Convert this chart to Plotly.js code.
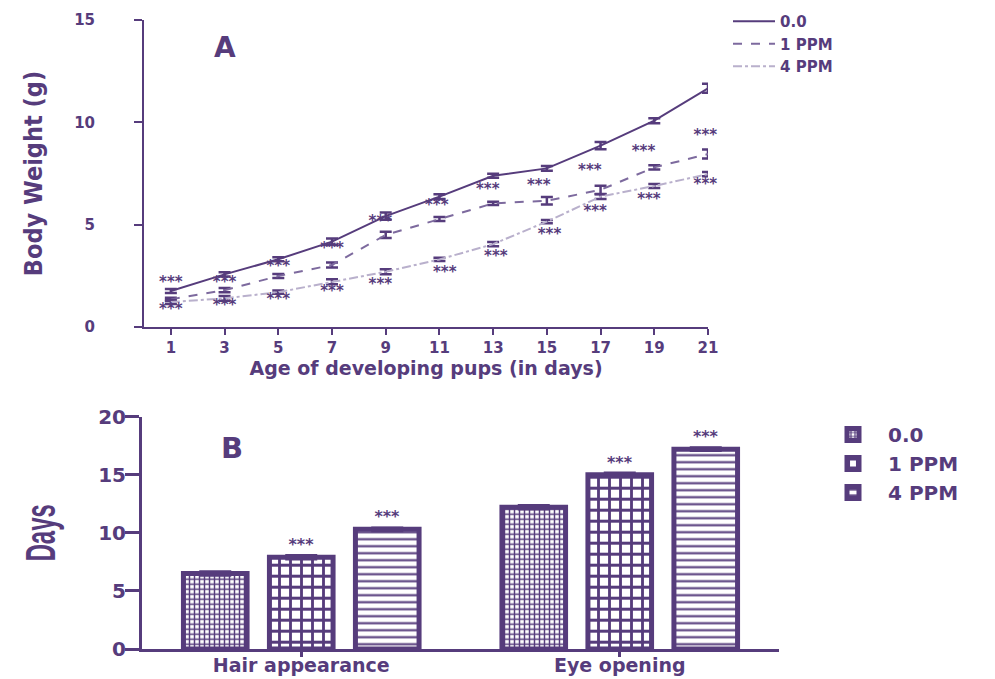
<!DOCTYPE html>
<html>
<head>
<meta charset="utf-8">
<script src="https://cdn.plot.ly/plotly-3.0.1.min.js"></script>
<style>html,body{margin:0;padding:0;background:#fff;}#chart{width:995px;height:679px;}</style>
</head>
<body>
<div id="chart"></div>
<script>
// ---- Panel A data: body weight (g) by age (days) ----
const days = [1, 3, 5, 7, 9, 11, 13, 15, 17, 19, 21];
const control = [1.76, 2.57, 3.31, 4.17, 5.42, 6.37, 7.39, 7.75, 8.86, 10.08, 11.66];
const controlErr = [0.1, 0.1, 0.1, 0.15, 0.18, 0.12, 0.1, 0.12, 0.18, 0.12, 0.22];
const ppm1 = [1.35, 1.80, 2.49, 3.03, 4.50, 5.28, 6.04, 6.17, 6.70, 7.80, 8.45];
const ppm1Err = [0.08, 0.1, 0.1, 0.12, 0.15, 0.1, 0.08, 0.18, 0.2, 0.1, 0.22];
const ppm4 = [1.22, 1.40, 1.70, 2.21, 2.70, 3.30, 4.05, 5.15, 6.37, 6.89, 7.47];
const ppm4Err = [0.1, 0.12, 0.08, 0.12, 0.12, 0.08, 0.1, 0.08, 0.12, 0.1, 0.1];
const seriesNames = ["0.0", "1 PPM", "4 PPM"];
// significance marks in panel A
const starX = [1, 1, 3, 3, 5, 5, 7, 7, 8.8, 8.8, 10.9, 11.2, 12.8, 13.1, 14.7, 15.1, 16.6, 16.8, 18.6, 18.8, 20.9, 20.9];
const starY = [2.16, 0.83, 2.15, 0.99, 2.9, 1.32, 3.8, 1.70, 5.14, 2.05, 5.91, 2.65, 6.69, 3.43, 6.90, 4.49, 7.59, 5.63, 8.56, 6.17, 9.33, 6.94];
const starLabel = "***";

// ---- Panel B data: days to developmental milestone ----
const milestones = ["Hair appearance", "Eye opening"];
const bar0 = [6.5, 12.2];
const bar0Err = [0.15, 0.15];
const bar1 = [7.9, 15.0];
const bar1Err = [0.15, 0.15];
const bar4 = [10.3, 17.2];
const bar4Err = [0.12, 0.12];
const bar0Stars = ["", ""];
const bar1Stars = ["***", "***"];
const bar4Stars = ["***", "***"];

const dark = "#563c7c";
const mid = "#7d6a9e";
const light = "#b9b0cc";
const FONT = "DejaVu Sans, Liberation Sans, sans-serif";
const NARROW = "DejaVu Sans Condensed, Liberation Sans, sans-serif";

function errA(arr) {
  return {type: "data", array: arr, visible: true, color: dark, thickness: 2.5, width: 6};
}

const traces = [
  {x: days, y: control, name: seriesNames[0], type: "scatter", mode: "lines",
   line: {color: dark, width: 2, dash: "solid"}, error_y: errA(controlErr), xaxis: "x", yaxis: "y", legend: "legend"},
  {x: days, y: ppm1, name: seriesNames[1], type: "scatter", mode: "lines",
   line: {color: mid, width: 2, dash: "dash"}, error_y: errA(ppm1Err), xaxis: "x", yaxis: "y", legend: "legend"},
  {x: days, y: ppm4, name: seriesNames[2], type: "scatter", mode: "lines",
   line: {color: light, width: 2, dash: "dashdot"}, error_y: errA(ppm4Err), xaxis: "x", yaxis: "y", legend: "legend"},
  {x: starX, y: starY, text: starX.map(() => starLabel), type: "scatter", mode: "text",
   textposition: "middle center", cliponaxis: false,
   textfont: {family: FONT, size: 15, color: dark, weight: "bold"},
   showlegend: false, hoverinfo: "skip", xaxis: "x", yaxis: "y"},
];

function barTrace(vals, errs, stars, name, pattern) {
  return {
    x: milestones, y: vals, name: name, type: "bar", xaxis: "x2", yaxis: "y2", legend: "legend2",
    text: stars, textposition: "outside", cliponaxis: false,
    textfont: {family: FONT, size: 16, color: dark, weight: "bold"},
    marker: {color: "#ffffff", line: {color: dark, width: 5},
             pattern: Object.assign({fgcolor: dark, bgcolor: "#ffffff", fillmode: "replace"}, pattern)},
    error_y: {type: "data", array: errs, visible: true, color: dark, thickness: 3, width: 16}
  };
}
traces.push(barTrace(bar0, bar0Err, bar0Stars, seriesNames[0], {shape: "+", size: 5, solidity: 0.5}));
traces.push(barTrace(bar1, bar1Err, bar1Stars, seriesNames[1], {shape: "+", size: 11, solidity: 0.45}));
traces.push(barTrace(bar4, bar4Err, bar4Stars, seriesNames[2], {shape: "-", size: 7, solidity: 0.3}));

const W = 995, H = 679;
const axTickFont = {family: FONT, size: 15, color: dark, weight: "bold"};

const layout = {
  width: W, height: H,
  margin: {l: 0, r: 0, t: 0, b: 0},
  paper_bgcolor: "#ffffff", plot_bgcolor: "#ffffff",
  font: {family: FONT, color: dark},
  barmode: "group", bargap: 0.19, bargroupgap: 0.26,
  xaxis: {
    domain: [144 / W, 708 / W], range: [0, 21], anchor: "y",
    tickmode: "array", tickvals: days, ticks: "outside", ticklen: 6, tickwidth: 2, tickcolor: dark,
    showline: true, linecolor: dark, linewidth: 2, showgrid: false, zeroline: false,
    tickfont: axTickFont,
    title: {text: "Age of developing pups (in days)", font: {family: FONT, size: 19, color: dark, weight: "bold"}, standoff: 4}
  },
  yaxis: {
    domain: [1 - 327 / H, 1 - 20 / H], range: [0, 15], anchor: "x",
    tickmode: "array", tickvals: [0, 5, 10, 15], ticks: "outside", ticklen: 8, tickwidth: 2, tickcolor: dark,
    ticklabelstandoff: 36,
    showline: true, linecolor: dark, linewidth: 2, showgrid: false, zeroline: false,
    tickfont: axTickFont,
    title: {text: "Body Weight (g)", font: {family: NARROW, size: 25, color: dark, weight: "bold"}, standoff: 24}
  },
  xaxis2: {
    domain: [142 / W, 779 / W], anchor: "y2", type: "category",
    ticks: "outside", ticklen: 5, tickwidth: 3, tickcolor: dark, ticklabelstandoff: -8,
    showline: true, linecolor: dark, linewidth: 3, showgrid: false, zeroline: false,
    tickfont: {family: FONT, size: 19, color: dark, weight: "bold"}
  },
  yaxis2: {
    domain: [1 - 649 / H, 1 - 416.7 / H], range: [0, 20], anchor: "x2",
    tickmode: "array", tickvals: [0, 5, 10, 15, 20], ticks: "outside", ticklen: 14, tickwidth: 3, tickcolor: dark,
    ticklabelstandoff: -5,
    showline: true, linecolor: dark, linewidth: 3, showgrid: false, zeroline: false,
    tickfont: {family: FONT, size: 20, color: dark, weight: "bold"},
    title: {text: "Days", font: {family: "Liberation Sans, sans-serif", size: 42, color: dark, weight: "bold"}, standoff: 30}
  },
  legend: {
    x: 728 / W, y: 1 - 5 / H, xanchor: "left", yanchor: "top",
    font: {family: FONT, size: 15, color: dark, weight: "bold"},
    tracegroupgap: 0, itemwidth: 42, bgcolor: "rgba(0,0,0,0)"
  },
  legend2: {
    x: 818 / W, y: 1 - 415 / H, xanchor: "left", yanchor: "top",
    font: {family: FONT, size: 20, color: dark, weight: "bold"},
    tracegroupgap: 0, itemwidth: 60, bgcolor: "rgba(0,0,0,0)"
  },
  annotations: [
    {text: "A", xref: "paper", yref: "paper", x: 225 / W, y: 1 - 48 / H, showarrow: false,
     xanchor: "center", yanchor: "middle", font: {family: FONT, size: 28, color: dark, weight: "bold"}},
    {text: "B", xref: "paper", yref: "paper", x: 232 / W, y: 1 - 448 / H, showarrow: false,
     xanchor: "center", yanchor: "middle", font: {family: FONT, size: 29, color: dark, weight: "bold"}}
  ],
  showlegend: true
};

Plotly.newPlot("chart", traces, layout, {displayModeBar: false, staticPlot: true}).then(function () {
  // narrow the tall "Days" title like the original figure
  document.querySelectorAll(".g-y2title text").forEach(function (t) {
    t.setAttribute("textLength", 57);
    t.setAttribute("lengthAdjust", "spacingAndGlyphs");
  });
});
</script>
</body>
</html>
